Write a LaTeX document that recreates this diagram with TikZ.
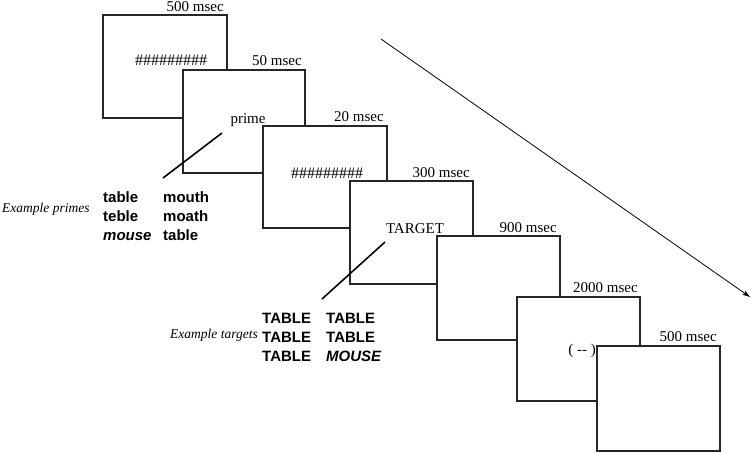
\documentclass[tikz,border=0pt]{standalone}
\usepackage{fontspec}
\setmainfont{Liberation Serif}
\newfontfamily\arialfont{Liberation Sans}
\usetikzlibrary{arrows.meta}
\tikzset{
  screen/.style={draw=black!85, line width=1.2pt, fill=white},
  dur/.style={anchor=base east, inner sep=0pt, font=\fontsize{15}{15}\selectfont},
  stim/.style={anchor=base, inner sep=0pt, font=\fontsize{15}{15}\selectfont},
  hashes/.style={anchor=base, inner sep=0pt, font=\fontsize{16}{16}\selectfont},
  word/.style={anchor=base west, inner sep=0pt, font=\arialfont\bfseries\fontsize{15}{15}\selectfont},
  exlab/.style={anchor=base west, inner sep=0pt, font=\itshape\fontsize{13.5}{13.5}\selectfont},
  pointer/.style={line width=1.6pt, black},
}
\begin{document}
\begin{tikzpicture}[x=1pt,y=-1pt]
\useasboundingbox (0,0) rectangle (751,452);
% screens
\draw[screen] (103,15) rectangle (227,118);
\draw[screen] (183,70) rectangle (305,173);
\draw[screen] (263,126) rectangle (387,228);
\draw[screen] (350,181) rectangle (473,284);
\draw[screen] (437,236) rectangle (560,340);
\draw[screen] (517,297) rectangle (640,401);
\draw[screen] (597,346) rectangle (720,451);
% durations
\node[dur] (d1) at (224,11.5) {500 msec};
\node[dur] (d2) at (302,65) {50 msec};
\node[dur] (d3) at (384,121) {20 msec};
\node[dur] (d4) at (470,177) {300 msec};
\node[dur] (d5) at (557,232) {900 msec};
\node[dur] (d6) at (638,292) {2000 msec};
\node[dur] (d7) at (717,341) {500 msec};
% stimuli
\node[hashes] (h1) at (171,66) {\#\#\#\#\#\#\#\#\#};
\node[stim] (pr) at (248,123) {prime};
\node[hashes] (h2) at (327,178) {\#\#\#\#\#\#\#\#\#};
\node[stim] (tg) at (415,233) {TARGET};
\node[stim] (fx) at (582,354) {( -{}- )};
% pointers
\coordinate (p1) at (163,178);
\coordinate (p2) at (222,133);
\draw[pointer] (p1) -- (p2);
\coordinate (t1) at (322,299);
\coordinate (t2) at (385,242);
\draw[pointer] (t1) -- (t2);
% time arrow
\coordinate (a1) at (381,39);
\coordinate (a2) at (750,297);
\draw[line width=0.8pt, -{Stealth[length=8pt,width=5pt]}] (a1) -- (a2);
% example primes
\node[exlab] (ep) at (2,212) {Example primes};
\node[word] (w11) at (103,202) {table};
\node[word] (w12) at (163,202) {mouth};
\node[word] (w21) at (103,221) {teble};
\node[word] (w22) at (163,221) {moath};
\node[word] (w31) at (103,240) {\itshape mouse};
\node[word] (w32) at (163,240) {table};
% example targets
\node[exlab] (et) at (170,338) {Example targets};
\node[word] (x11) at (262,323) {TABLE};
\node[word] (x12) at (326,323) {TABLE};
\node[word] (x21) at (262,342) {TABLE};
\node[word] (x22) at (326,342) {TABLE};
\node[word] (x31) at (262,361) {TABLE};
\node[word] (x32) at (326,361) {\itshape MOUSE};
\end{tikzpicture}
\end{document}
